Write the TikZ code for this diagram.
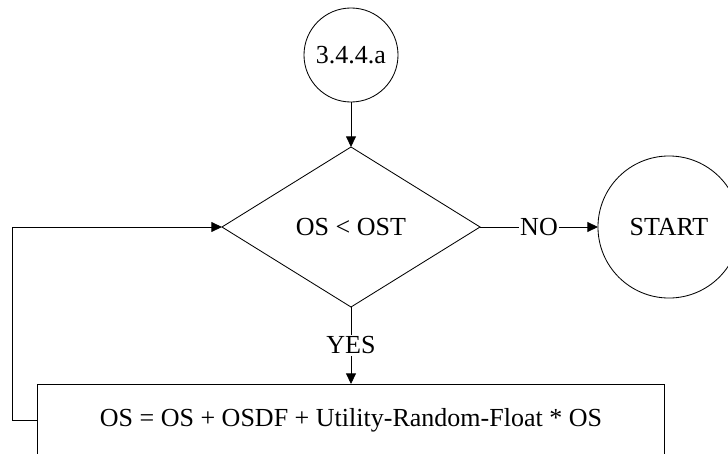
\documentclass[tikz,border=0pt]{standalone}
\usepackage{fontspec}
\setmainfont{Liberation Serif}
\usepackage{tikz}
\usetikzlibrary{arrows.meta}
\usetikzlibrary{shapes.geometric}
\tikzstyle{base}=[x=0.025cm, y=-0.025cm, line width=0.6pt, font=\fontsize{18.5}{22}\selectfont, >={Triangle[length=7.5pt, width=7pt]}]
\tikzstyle{conn}=[draw, circle, inner sep=0pt, outer sep=0pt]
\tikzstyle{test}=[draw, diamond, inner sep=0pt, outer sep=0pt, minimum width=6.45cm, minimum height=4cm]
\tikzstyle{proc}=[draw, rectangle, inner sep=0pt, outer sep=0pt, minimum width=15.65cm, minimum height=1.8cm]
\tikzstyle{lbl}=[fill=white, inner sep=1pt]

\begin{document}
\begin{tikzpicture}[base]
        \useasboundingbox (0,0) rectangle (728,453);
        \node[conn, minimum size=2.35cm] (ref) at (351,55) {3.4.4.a};
        \node[test] (cmp) at (351,227) {OS < OST};
        \node[conn, minimum size=3.55cm] (start) at (669,227) {START};
        \node[proc] (upd) at (351,420) {OS = OS + OSDF + Utility-Random-Float * OS};
        \draw[->] (ref) -- (cmp);
        \draw[->] (cmp) -- node[lbl] {NO} (start);
        \draw[->] (cmp) -- node[lbl] {YES} (upd);
        \draw[->] (upd.west) -- ++(-25,0) |- (cmp.west);
    \end{tikzpicture}
\end{document}
